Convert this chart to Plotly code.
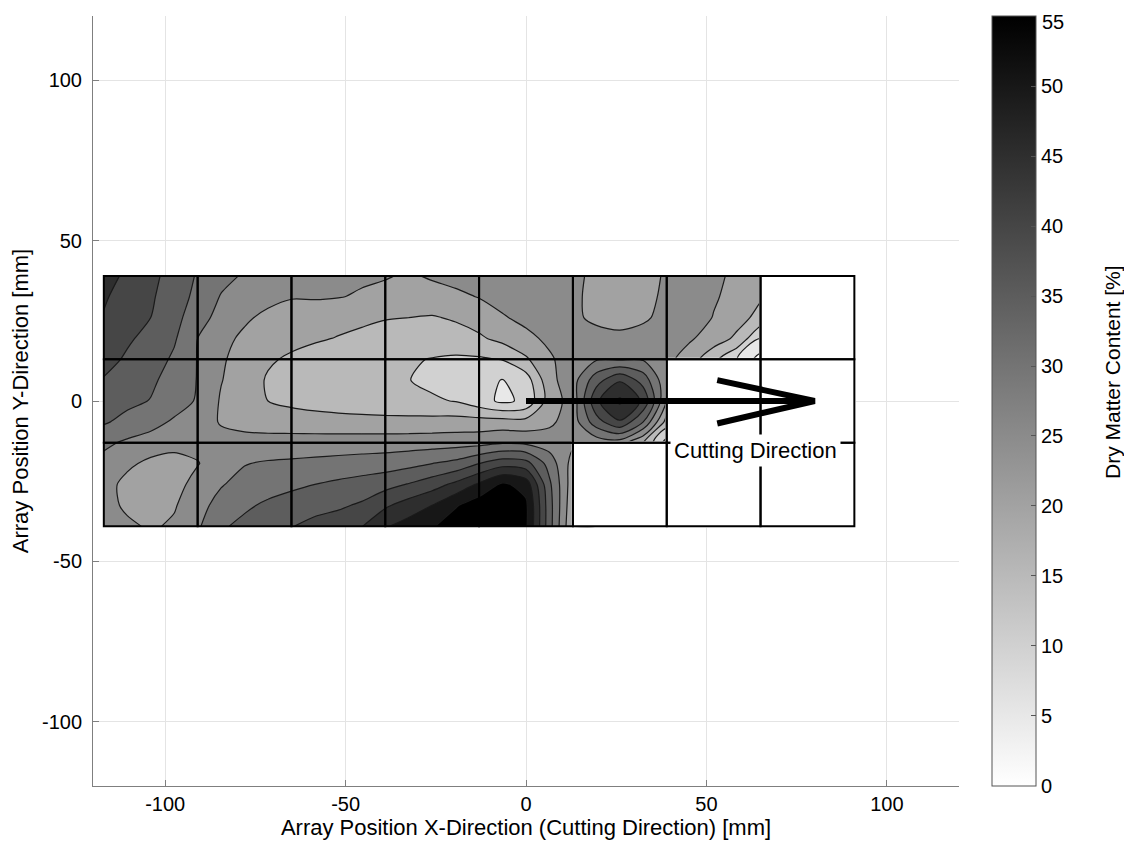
import plotly.graph_objects as go

# ---------------- data ----------------
# measurement grid (mm); rows listed from top (y=39) to bottom (y=-39)
x_grid = [-117, -110.5, -104, -97.5, -91, -84.5, -78, -71.5, -65, -58.5, -52, -45.5,
          -39, -32.5, -26, -19.5, -13, -6.5, 0, 6.5, 13, 19.5, 26, 32.5, 39, 45.5,
          52, 58.5, 65, 71.5, 78, 84.5, 91]
y_rows = [39, 32.5, 26, 19.5, 13, 6.5, 0, -6.5, -13, -19.5, -26, -32.5, -39]

N = None
dm_y39 = [47, 44, 41.2, 38.2, 34.5, 31.4, 29.5, 28, 27, 26.5, 26, 25.7, 25.3, 24.5, 25.5, 26.5,
          27.5, 28, 28.3, 28, 26.5, 23.5, 22.5, 23.5, 25.5, 27, 26, 24, 22, N, N, N, N]
dm_y32 = [45.5, 43.2, 40.6, 37.6, 33.6, 29.7, 27.5, 26.5, 25.3, 25.5, 25.2, 24.5, 23.8, 23.3, 23.3, 24,
          25.2, 26.5, 27.5, 28, 26, 23.5, 22.7, 23.5, 26, 27, 25.5, 23.5, 20.5, N, N, N, N]
dm_y26 = [44.7, 42.2, 40, 36.8, 31.8, 28.5, 25.8, 23.8, 22.8, 22, 21.3, 20.7, 20.2, 20, 19.6, 20.6,
          22.3, 24.6, 26.2, 27, 26.3, 23.5, 22, 24, 27, 27.5, 24.8, 21.8, 18.5, N, N, N, N]
dm_y19 = [43, 40.6, 38.7, 35.6, 30, 26.5, 24, 22.3, 21.3, 20.5, 19.8, 19.2, 18.6, 18, 17.5, 17.8,
          19.2, 21.5, 23.8, 26, 27, 27.5, 27, 27.5, 27.5, 25.6, 22.5, 19, 10, N, N, N, N]
dm_y13 = [41.5, 39.4, 37.4, 34.2, 29.8, 25.6, 23.1, 20.6, 19.3, 18.3, 17.5, 16.8, 16.2, 15.5, 14.8, 14.3,
          14.4, 15.2, 19.3, 24.3, 27.5, 29.5, 29.5, 29.5, 26.5, 22.3, 16.5, 10, 3, N, N, N, N]
dm_y06 = [39.7, 37.7, 35.9, 33, 29.8, 25.2, 22.5, 19.5, 18.5, 17.7, 17, 16.3, 15.7, 15.1, 14, 12.8,
          11.8, 9.8, 12.5, 23.5, 28, 38, 44.5, 38, 26, N, N, N, N, N, N, N, N]
dm_y00 = [37.7, 36.2, 34.8, 32.3, 29.5, 24.5, 22.3, 20, 18.8, 18, 17.4, 16.9, 16.5, 16.1, 15.6, 14.8,
          12, 9, 11, 22.5, 27, 44, 51, 44, 25, N, N, N, N, N, N, N, N]
dm_ym06 = [35.6, 33.5, 31.8, 29.3, 26.8, 24.7, 23.8, 23.2, 22.6, 22.2, 21.9, 21.7, 21.6, 21.6, 21.7, 22,
           22, 22, 21.8, 24, 27.5, 38, 44.5, 35, 18, N, N, N, N, N, N, N, N]
dm_ym13 = [31, 29.2, 27.8, 26.8, 26.2, 26.2, 26.3, 26.5, 26.9, 27.1, 27.3, 27.4, 27.5, 27.6, 27.8, 28,
           28.3, 29.5, 29, 27.5, 26, 27, 27.5, 20, 8, N, N, N, N, N, N, N, N]
dm_ym19 = [28.5, 26, 23.8, 23, 24.8, 27, 29.8, 30.6, 30.9, 31.3, 31.7, 32.2, 32.6, 33.5, 35, 36.5,
           40, 43, 42, 33, 23, N, N, N, N, N, N, N, N, N, N, N, N]
dm_ym26 = [27, 23.5, 22.5, 23.5, 26.5, 29.7, 31.5, 32.5, 33.8, 35, 36, 37, 38.3, 40.3, 42.8, 46.2,
           50.8, 56, 53, 36, 22, N, N, N, N, N, N, N, N, N, N, N, N]
dm_ym32 = [27, 24, 22.5, 24.5, 28.5, 31.5, 34, 36, 37.5, 38.5, 39.2, 40.7, 44.2, 47.2, 50, 54.5,
           58, 60, 56, 37, 21, N, N, N, N, N, N, N, N, N, N, N, N]
dm_ym39 = [27.5, 26, 24.3, 25.8, 29.3, 34.2, 36.5, 38, 39.8, 41.3, 42.6, 44.8, 49.5, 52, 54.5, 58,
           59, 60, 56, 37, 20, N, N, N, N, N, N, N, N, N, N, N, N]

dm_rows = [dm_y39, dm_y32, dm_y26, dm_y19, dm_y13, dm_y06, dm_y00,
           dm_ym06, dm_ym13, dm_ym19, dm_ym26, dm_ym32, dm_ym39]

# sensor cell layout
cell_x = [-104, -78, -52, -26, 0, 26, 52, 78]
cell_y = [-26, 0, 26]
cell_size = 26
missing_cells = [(78, 26), (52, 0), (78, 0), (26, -26), (52, -26), (78, -26)]

# cutting-direction arrow and label
arrow_shaft_x = [0, 80]
arrow_shaft_y = [0, 0]
arrow_head_x = [53, 80, 53]
arrow_head_y = [6.5, 0, -7]
label_text = "Cutting Direction"
label_x = 63.7
label_y = -15.3

# scales
levels_start, levels_end, levels_step = 0, 55, 5
cbar_ticks = [0, 5, 10, 15, 20, 25, 30, 35, 40, 45, 50, 55]
axis_ticks = [-100, -50, 0, 50, 100]
axis_ticktext = ["-100", "-50", "0", "50", "100"]
axis_range = [-120, 120]

# ---------------- figure ----------------
y_grid = y_rows[::-1]
z = dm_rows[::-1]

def gray(v):
    g = round(255 * (1 - min(max(v, 0), 55) / 55))
    return f"rgb({g},{g},{g})"

# band [L, L+step] is painted with the colormap value at L (MATLAB contourf look)
nbands = (levels_end - levels_start) // levels_step + 1
band_scale = []
for k in range(nbands + 1):
    L = levels_start + levels_step * (k - 1)
    band_scale.append([k / nbands, gray(L)])

FONT = "Arial, 'Liberation Sans', Helvetica, sans-serif"

# geometry of the page (the html body adds an 8px offset)
PLOT_L, PLOT_W = 93, 866          # screen px of the axes box
PLOT_T, PLOT_H = 16, 770
OFF = 8
CB_LEFT, CB_W = 992, 44


def paper_x(px):
    return (px - PLOT_L) / PLOT_W


def paper_y(py):
    return (PLOT_T + PLOT_H - py) / PLOT_H


fig = go.Figure()
fig.add_trace(go.Contour(
    x=x_grid, y=y_grid, z=z,
    contours=dict(start=levels_start, end=levels_end, size=levels_step,
                  coloring="fill", showlines=True),
    line=dict(color="#1a1a1a", width=1.2, smoothing=0.8),
    colorscale=band_scale, showscale=False, connectgaps=True,
    hoverinfo="skip",
))

# colorbar (continuous gray ramp, as in the reference)
cb_span = cbar_ticks[-1] - cbar_ticks[0]
cb_text = [str(t) for t in cbar_ticks[:-1]] + [""]   # top label drawn as annotation
fig.add_trace(go.Scatter(
    x=[x_grid[0]], y=[y_grid[0]], mode="markers", hoverinfo="skip", showlegend=False,
    marker=dict(size=1, opacity=0, color=[levels_start],
                colorscale=[[0, "#ffffff"], [1, "#000000"]],
                cmin=cbar_ticks[0] - cb_span * 1e-4, cmax=cbar_ticks[-1] + cb_span * 1e-4,
                showscale=True,
                colorbar=dict(
                    x=paper_x(CB_LEFT), xanchor="left", y=0.5, yanchor="middle",
                    len=1, lenmode="fraction", thickness=CB_W, thicknessmode="pixels",
                    xpad=0, ypad=0, outlinewidth=1, outlinecolor="#555555",
                    tickvals=cbar_ticks, ticktext=cb_text, ticks="inside", ticklen=5,
                    tickcolor="#555555",
                    tickfont=dict(size=20, color="#000000", family=FONT),
                )),
))

shapes = []
half = cell_size / 2
for (mx, my) in missing_cells:
    shapes.append(dict(type="rect", xref="x", yref="y", x0=mx - half, x1=mx + half,
                       y0=my - half, y1=my + half, fillcolor="white",
                       line=dict(color="white", width=3), layer="above"))
for cx in cell_x:
    for cy in cell_y:
        shapes.append(dict(type="rect", xref="x", yref="y", x0=cx - half, x1=cx + half,
                           y0=cy - half, y1=cy + half, line=dict(color="black", width=2),
                           layer="above"))
shapes.append(dict(type="line", xref="x", yref="y", x0=arrow_shaft_x[0], x1=arrow_shaft_x[1],
                   y0=arrow_shaft_y[0], y1=arrow_shaft_y[1], line=dict(color="black", width=6),
                   layer="above"))
head_path = "M {} {} L {} {} L {} {}".format(arrow_head_x[0], arrow_head_y[0],
                                             arrow_head_x[1], arrow_head_y[1],
                                             arrow_head_x[2], arrow_head_y[2])
shapes.append(dict(type="path", xref="x", yref="y", path=head_path,
                   line=dict(color="black", width=6), layer="above"))
# left-side tick marks of the colorbar
for t in cbar_ticks[1:-1]:
    yy = (t - cbar_ticks[0]) / cb_span
    shapes.append(dict(type="line", xref="paper", yref="paper",
                       x0=paper_x(CB_LEFT), x1=paper_x(CB_LEFT + 5), y0=yy, y1=yy,
                       line=dict(color="#555555", width=1), layer="above"))

axis_common = dict(range=axis_range, tickvals=axis_ticks, ticktext=axis_ticktext,
                   showgrid=True, gridcolor="#e4e4e4",
                   gridwidth=1, zeroline=False, showline=True, linecolor="#7f7f7f", linewidth=1,
                   ticks="inside", ticklen=6, tickcolor="#7f7f7f", automargin=False,
                   tickfont=dict(size=20, color="#000000", family=FONT))

fig.update_layout(
    width=1132 - OFF, height=846 - OFF,
    margin=dict(l=PLOT_L - OFF, r=1132 - OFF - (PLOT_L - OFF) - PLOT_W,
                t=PLOT_T - OFF, b=846 - OFF - (PLOT_T - OFF) - PLOT_H),
    paper_bgcolor="white", plot_bgcolor="white",
    font=dict(family=FONT, color="#000000"),
    showlegend=False,
    shapes=shapes,
    xaxis=dict(**axis_common,
               title=dict(text="Array Position X-Direction (Cutting Direction) [mm]",
                          font=dict(size=22), standoff=4)),
    yaxis=dict(**axis_common, ticklabelstandoff=6,
               title=dict(text="Array Position Y-Direction [mm]",
                          font=dict(size=22), standoff=12)),
    annotations=[
        dict(x=label_x, y=label_y, xref="x", yref="y", text=label_text,
             showarrow=False, bgcolor="white", borderpad=3,
             font=dict(size=22, color="#000000", family=FONT)),
        dict(x=paper_x(1112), y=paper_y(372), xref="paper", yref="paper",
             text="Dry Matter Content [%]", textangle=-90, showarrow=False,
             xanchor="center", yanchor="middle",
             font=dict(size=21, color="#000000", family=FONT)),
        dict(x=paper_x(1041), y=paper_y(PLOT_T - 6), xref="paper", yref="paper",
             text=str(cbar_ticks[-1]), showarrow=False, xanchor="left", yanchor="top",
             borderpad=0, font=dict(size=20, color="#000000", family=FONT)),
    ],
)

fig.write_html("out.html")
